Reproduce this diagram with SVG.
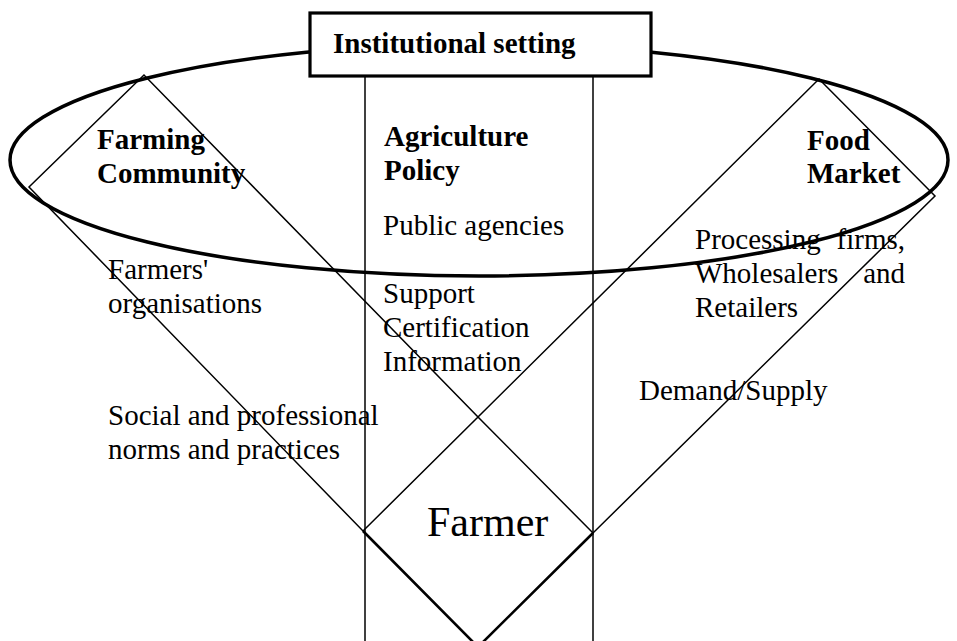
<svg xmlns="http://www.w3.org/2000/svg" width="957" height="641" viewBox="0 0 957 641">
  <style>
    .thin { fill: none; stroke: #000; stroke-width: 1.5; stroke-linejoin: miter; }
    .heavy { fill: none; stroke: #000; stroke-width: 2.6; }
    .ring { fill: none; stroke: #000; stroke-width: 3.5; }
    .frame { fill: #fff; stroke: #000; stroke-width: 3.2; }
    .t { font-family: "Liberation Serif", "Times New Roman", serif; font-size: 29px; fill: #000; }
    .b { font-weight: bold; }
    .big { font-size: 42px; }
  </style>

  <rect width="957" height="641" fill="#fff"/>

  <!-- outline shapes: pillars, tilted fields and the farmer square -->
  <g id="connectors">
    <line class="thin" x1="365" y1="76" x2="365" y2="641"/>
    <line class="thin" x1="593" y1="76" x2="593" y2="641"/>
    <polygon class="thin" points="144,75 29,187 363,531 478,417"/>
    <polygon class="thin" points="819,79 935,196 593,533 478,417"/>
    <polyline class="heavy" points="363,531 478,647 593,533"/>
  </g>

  <!-- surrounding institutional ring -->
  <g id="ring">
    <ellipse class="ring" cx="479" cy="160" rx="469" ry="116"/>
  </g>

  <g id="institutional-setting">
    <rect class="frame" x="310" y="13" width="341" height="63"/>
    <text class="t b" x="333" y="53">Institutional setting</text>
  </g>

  <g id="farming-community">
    <text class="t b" x="97" y="149">Farming</text>
    <text class="t b" x="97" y="183">Community</text>
    <text class="t" x="108" y="279">Farmers'</text>
    <text class="t" x="108" y="313">organisations</text>
    <text class="t" x="108" y="425">Social and professional</text>
    <text class="t" x="108" y="459">norms and practices</text>
  </g>

  <g id="agriculture-policy">
    <text class="t b" x="384" y="146">Agriculture</text>
    <text class="t b" x="384" y="180">Policy</text>
    <text class="t" x="383" y="235">Public agencies</text>
    <text class="t" x="383" y="303">Support</text>
    <text class="t" x="383" y="337">Certification</text>
    <text class="t" x="383" y="371">Information</text>
  </g>

  <g id="food-market">
    <text class="t b" x="807" y="150">Food</text>
    <text class="t b" x="807" y="183">Market</text>
    <text class="t" x="695" y="249">Processing</text>
    <text class="t" x="905" y="249" text-anchor="end">firms,</text>
    <text class="t" x="695" y="283">Wholesalers</text>
    <text class="t" x="905" y="283" text-anchor="end">and</text>
    <text class="t" x="695" y="317">Retailers</text>
    <text class="t" x="639" y="400">Demand/Supply</text>
  </g>

  <g id="farmer">
    <text class="t big" x="427" y="536">Farmer</text>
  </g>
</svg>
